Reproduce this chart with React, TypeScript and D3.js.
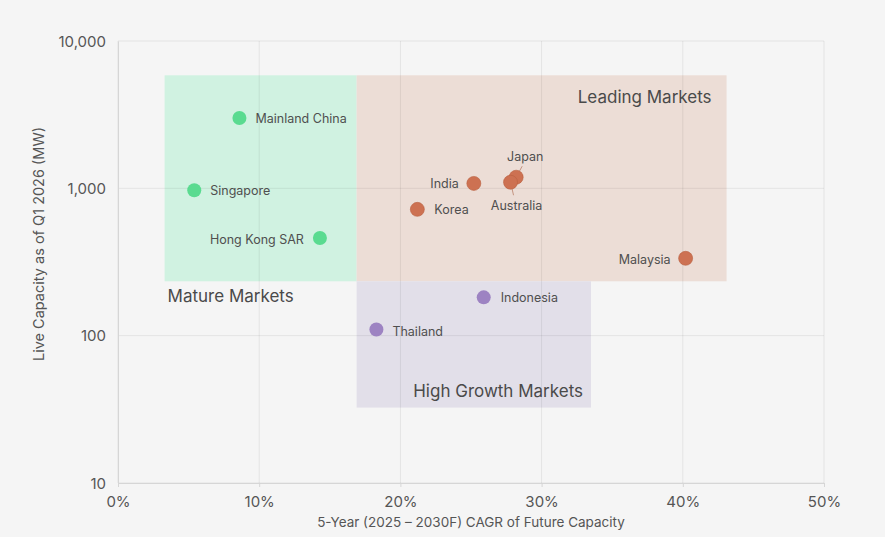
import React, { useEffect, useRef } from "react";
import * as d3 from "d3";

// market points: name, 5-year CAGR (%), live capacity (MW), group
const markets = ["Mainland China", "Singapore", "Hong Kong SAR", "India", "Japan", "Australia", "Korea", "Malaysia", "Indonesia", "Thailand"];
const cagr = [8.6, 5.4, 14.3, 25.2, 28.2, 27.8, 21.2, 40.2, 25.9, 18.3];
const capacity = [3000, 970, 460, 1080, 1190, 1100, 720, 335, 182, 110];
const groups = ["mature", "mature", "mature", "leading", "leading", "leading", "leading", "leading", "growth", "growth"];

// zones: [x0, x1] in % and [y0, y1] in MW
const zoneNames = ["Mature Markets", "Leading Markets", "High Growth Markets"];
const zoneKeys = ["mature", "leading", "growth"];
const zoneX = [[3.3, 16.9], [16.9, 43.1], [16.9, 33.5]];
const zoneY = [[234, 5850], [234, 5850], [32.5, 234]];

const xTicks = [0, 10, 20, 30, 40, 50];
const yTicks = [10, 100, 1000, 10000];

const dotColor: Record<string, string> = { mature: "#5adb90", leading: "#cd7152", growth: "#9d83c2" };
const zoneColor: Record<string, string> = { mature: "#d0f2e1", leading: "#ecddd6", growth: "#e2dfe9" };

const App = () => {
  const svgRef = useRef<SVGSVGElement>(null);

  useEffect(() => {
    document.body.style.margin = "0";
    const W = 885;
    const H = 537;
    const margin = { top: 41, right: 61, bottom: 54, left: 118 };
    const width = W - margin.left - margin.right;
    const height = H - margin.top - margin.bottom;

    const root = d3.select(svgRef.current);
    root.selectAll("*").remove();
    root.attr("width", W).attr("height", H).style("background", "#f5f5f5");

    const svg = root.append("g").attr("transform", `translate(${margin.left},${margin.top})`);
    const font = "Inter, 'Noto Sans', sans-serif";

    const x = d3.scaleLinear().domain([0, 50]).range([0, width]);
    const y = d3.scaleLog().domain([10, 10000]).range([height, 0]);

    // zone rectangles
    zoneKeys.forEach((k, i) => {
      svg
        .append("rect")
        .attr("x", x(zoneX[i][0]))
        .attr("width", x(zoneX[i][1]) - x(zoneX[i][0]))
        .attr("y", y(zoneY[i][1]))
        .attr("height", y(zoneY[i][0]) - y(zoneY[i][1]))
        .attr("fill", zoneColor[k]);
    });

    // grid
    svg
      .append("g")
      .selectAll("line.gx")
      .data(xTicks)
      .enter()
      .append("line")
      .attr("x1", (d) => x(d))
      .attr("x2", (d) => x(d))
      .attr("y1", 0)
      .attr("y2", height)
      .attr("stroke", "rgba(0,0,0,0.07)");
    svg
      .append("g")
      .selectAll("line.gy")
      .data(yTicks)
      .enter()
      .append("line")
      .attr("x1", 0)
      .attr("x2", width)
      .attr("y1", (d) => y(d))
      .attr("y2", (d) => y(d))
      .attr("stroke", "rgba(0,0,0,0.07)");

    // axes
    const xAxis = svg
      .append("g")
      .attr("transform", `translate(0,${height})`)
      .call(d3.axisBottom(x).tickValues(xTicks).tickFormat((d) => `${d}%`).tickSize(4).tickPadding(9));
    const yAxis = svg
      .append("g")
      .call(d3.axisLeft(y).tickValues(yTicks).tickFormat(d3.format(",")).tickSize(0).tickPadding(12));
    [xAxis, yAxis].forEach((a) => {
      a.select(".domain").attr("stroke", "#d6d6d6");
      a.selectAll(".tick line").attr("stroke", "#d6d6d6");
      a.selectAll(".tick text").attr("fill", "#555").style("font-size", "15px").style("font-family", font);
    });
    yAxis.selectAll(".tick text").attr("dy", "0.35em");

    svg
      .append("text")
      .attr("x", width / 2)
      .attr("y", height + 44)
      .attr("text-anchor", "middle")
      .attr("fill", "#555")
      .style("font-size", "13.5px")
      .style("font-family", font)
      .text("5-Year (2025 – 2030F) CAGR of Future Capacity");

    svg
      .append("text")
      .attr("transform", `translate(${-74},${203}) rotate(-90)`)
      .attr("text-anchor", "middle")
      .attr("fill", "#555")
      .style("font-size", "14.5px")
      .style("font-family", font)
      .text("Live Capacity as of Q1 2026 (MW)");

    // zone labels
    const zoneLabel = [
      { x: x(zoneX[0][0]) + 3, y: y(zoneY[0][0]) + 21, anchor: "start" },
      { x: x(zoneX[1][1]) - 15, y: y(zoneY[1][1]) + 28, anchor: "end" },
      { x: x(zoneX[2][1]) - 8, y: y(zoneY[2][0]) - 11, anchor: "end" },
    ];
    zoneNames.forEach((n, i) => {
      svg
        .append("text")
        .attr("x", zoneLabel[i].x)
        .attr("y", zoneLabel[i].y)
        .attr("text-anchor", zoneLabel[i].anchor)
        .attr("fill", "#4a4a4a")
        .style("font-size", "17px")
        .style("font-family", font)
        .text(n);
    });

    // label placement per market: dx, dy, anchor
    const place: Record<string, [number, number, string]> = {
      "Mainland China": [16, 5, "start"],
      Singapore: [16, 5, "start"],
      "Hong Kong SAR": [-16, 6, "end"],
      India: [-15, 5, "end"],
      Japan: [9, -16, "middle"],
      Australia: [6, 28, "middle"],
      Korea: [17, 5, "start"],
      Malaysia: [-15, 6, "end"],
      Indonesia: [17, 5, "start"],
      Thailand: [16, 6, "start"],
    };

    // leader lines for the overlapping pair
    const leader = [
      { name: "Japan", x2: 6, y2: -11 },
      { name: "Australia", x2: 3, y2: 13 },
    ];
    leader.forEach((l) => {
      const i = markets.indexOf(l.name);
      svg
        .append("line")
        .attr("x1", x(cagr[i]))
        .attr("y1", y(capacity[i]))
        .attr("x2", x(cagr[i]) + l.x2)
        .attr("y2", y(capacity[i]) + l.y2)
        .attr("stroke", "#b9806a")
        .attr("stroke-width", 0.8);
    });

    svg
      .selectAll("circle")
      .data(markets)
      .enter()
      .append("circle")
      .attr("cx", (d, i) => x(cagr[i]))
      .attr("cy", (d, i) => y(capacity[i]))
      .attr("r", 7)
      .attr("fill", (d, i) => dotColor[groups[i]])
      .attr("stroke", (d, i) => (groups[i] === "leading" ? "#b8603f" : "none"))
      .attr("stroke-width", 0.6);

    svg
      .selectAll("text.pt")
      .data(markets)
      .enter()
      .append("text")
      .attr("class", "pt")
      .attr("x", (d, i) => x(cagr[i]) + place[d][0])
      .attr("y", (d, i) => y(capacity[i]) + place[d][1])
      .attr("text-anchor", (d) => place[d][2])
      .attr("fill", "#4f4f4f")
      .style("font-size", "12.5px")
      .style("font-family", font)
      .text((d) => d);
  }, []);

  return <svg ref={svgRef}></svg>;
};

export default App;
